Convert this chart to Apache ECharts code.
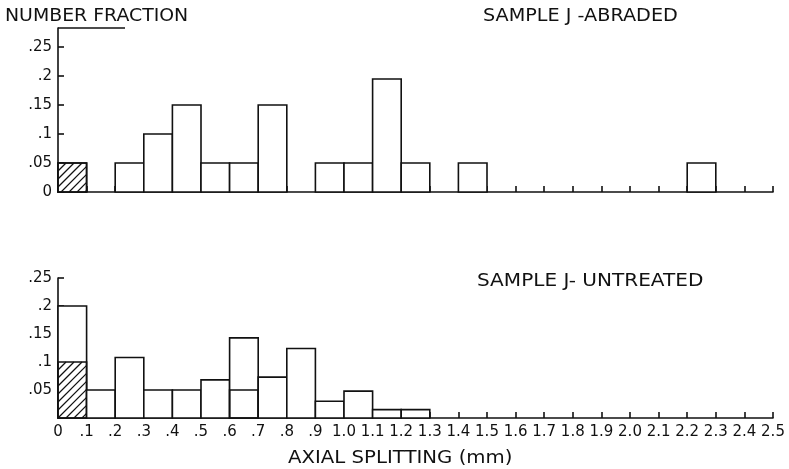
<!DOCTYPE html>
<html>
<head>
<meta charset="utf-8">
<script src="https://cdn.jsdelivr.net/npm/echarts@6/dist/echarts.min.js"></script>
<style>html,body{margin:0;padding:0;background:#fff;}#c{width:789px;height:469px;}</style>
</head>
<body>
<div id="c"></div>
<script>
// Bin edges (mm) and tick labels
var binEdges = [0,0.1,0.2,0.3,0.4,0.5,0.6,0.7,0.8,0.9,1.0,1.1,1.2,1.3,1.4,1.5,1.6,1.7,1.8,1.9,2.0,2.1,2.2,2.3,2.4,2.5];
var xTickLabels = ['0','.1','.2','.3','.4','.5','.6','.7','.8','.9','1.0','1.1','1.2','1.3','1.4','1.5','1.6','1.7','1.8','1.9','2.0','2.1','2.2','2.3','2.4','2.5'];
var yTickValuesTop = [0,0.05,0.1,0.15,0.2,0.25];
var yTickLabelsTop = ['0','.05','.1','.15','.2','.25'];
var yTickValuesBottom = [0.05,0.1,0.15,0.2,0.25];
var yTickLabelsBottom = ['.05','.1','.15','.2','.25'];

// Sample J - abraded: number fraction per bin (25 bins)
var abradedTotal  = [0.05,0,0.05,0.10,0.15,0.05,0.05,0.15,0,0.05,0.05,0.195,0.05,0,0.05,0,0,0,0,0,0,0,0.05,0,0];
var abradedLower  = [0.05,0,0,0,0,0,0,0,0,0,0,0,0,0,0,0,0,0,0,0,0,0,0,0,0];
var abradedHatch  = [1,0,0,0,0,0,0,0,0,0,0,0,0,0,0,0,0,0,0,0,0,0,0,0,0];

// Sample J - untreated
var untreatedTotal = [0.20,0.05,0.108,0.05,0.05,0.068,0.143,0.073,0.124,0.030,0.048,0.015,0.015,0,0,0,0,0,0,0,0,0,0,0,0];
var untreatedLower = [0.10,0,0,0,0,0,0.05,0,0,0,0,0,0,0,0,0,0,0,0,0,0,0,0,0,0];
var untreatedHatch = [1,0,0,0,0,0,0,0,0,0,0,0,0,0,0,0,0,0,0,0,0,0,0,0,0];

var FONT = 'DejaVu Sans';
var INK = '#111';

function buildData(total, lower, hatch) {
  var d = [];
  for (var i = 0; i < total.length; i++) {
    if (total[i] > 0) d.push([binEdges[i], binEdges[i+1], total[i], lower[i], hatch[i]]);
  }
  return d;
}

function renderBar(params, api) {
  var x0 = api.value(0), x1 = api.value(1), t = api.value(2), lo = api.value(3), h = api.value(4);
  var p0 = api.coord([x0, 0]);
  var p1 = api.coord([x1, t]);
  var children = [{
    type: 'rect',
    shape: {x: p0[0], y: p1[1], width: p1[0] - p0[0], height: p0[1] - p1[1]},
    style: {fill: '#fff', stroke: INK, lineWidth: 1.6}
  }];
  if (lo > 0) {
    var pl = api.coord([x1, lo]);
    var rx0 = p0[0], rx1 = pl[0], ry0 = pl[1], ry1 = p0[1];
    if (h) {
      var step = 8;
      for (var c = rx0 + ry0 + step; c < rx1 + ry1; c += step) {
        var sx = Math.max(rx0, c - ry1), ex = Math.min(rx1, c - ry0);
        if (ex > sx) {
          children.push({type: 'line', shape: {x1: sx, y1: c - sx, x2: ex, y2: c - ex},
            style: {stroke: INK, lineWidth: 1.2}});
        }
      }
    }
    children.push({
      type: 'rect',
      shape: {x: rx0, y: ry0, width: rx1 - rx0, height: ry1 - ry0},
      style: {fill: 'none', stroke: INK, lineWidth: 1.6}
    });
  }
  return {type: 'group', children: children};
}

function fmt(values, labels) {
  return function (v) {
    for (var i = 0; i < values.length; i++) if (Math.abs(values[i] - v) < 1e-6) return labels[i];
    return '';
  };
}

function label(text, x, y, sx) {
  return {type: 'text', x: x, y: y, scaleX: sx, scaleY: 1,
    style: {text: text, font: '17px "DejaVu Sans"', fill: INK, textVerticalAlign: 'top'}};
}

var axisLineStyle = {lineStyle: {color: INK, width: 1.6}};
var tickStyle = {lineStyle: {color: INK, width: 1.6}};
var labelBase = {color: INK, fontFamily: FONT, fontSize: 15};

var chart = echarts.init(document.getElementById('c'), null, {renderer: 'canvas'});
chart.setOption({
  backgroundColor: '#fff',
  animation: false,
  graphic: [
    label('NUMBER FRACTION', 5, 8, 1.11),
    label('SAMPLE J -ABRADED', 483, 8, 1.13),
    label('SAMPLE J- UNTREATED', 477, 273, 1.18),
    label('AXIAL SPLITTING (mm)', 288, 450, 1.16),
    {type: 'line', shape: {x1: 58, y1: 28, x2: 125, y2: 28}, style: {stroke: INK, lineWidth: 1.6}}
  ],
  grid: [
    {left: 58, width: 715, top: 28, height: 164},
    {left: 58, width: 715, top: 278, height: 140}
  ],
  xAxis: [
    {gridIndex: 0, type: 'value', min: 0, max: 2.5, interval: 0.1,
      axisLine: axisLineStyle, axisTick: {show: true, inside: true, length: 6, lineStyle: tickStyle.lineStyle},
      axisLabel: {show: false}, splitLine: {show: false}},
    {gridIndex: 1, type: 'value', min: 0, max: 2.5, interval: 0.1,
      axisLine: axisLineStyle, axisTick: {show: true, inside: true, length: 6, lineStyle: tickStyle.lineStyle},
      axisLabel: Object.assign({margin: 7, formatter: function (v) { return xTickLabels[Math.round(v * 10)]; },
        showMinLabel: true, showMaxLabel: true, hideOverlap: false}, labelBase),
      splitLine: {show: false}}
  ],
  yAxis: [
    {gridIndex: 0, type: 'value', min: 0, max: 0.283,
      axisLine: {show: true, lineStyle: axisLineStyle.lineStyle},
      axisTick: {show: true, inside: true, length: 6, lineStyle: tickStyle.lineStyle, customValues: yTickValuesTop},
      axisLabel: Object.assign({margin: 6, customValues: yTickValuesTop, formatter: fmt(yTickValuesTop, yTickLabelsTop)}, labelBase),
      splitLine: {show: false}},
    {gridIndex: 1, type: 'value', min: 0, max: 0.25,
      axisLine: {show: true, lineStyle: axisLineStyle.lineStyle},
      axisTick: {show: true, inside: true, length: 6, lineStyle: tickStyle.lineStyle, customValues: yTickValuesBottom},
      axisLabel: Object.assign({margin: 6, customValues: yTickValuesBottom, formatter: fmt(yTickValuesBottom, yTickLabelsBottom)}, labelBase),
      splitLine: {show: false}}
  ],
  series: [
    {type: 'custom', xAxisIndex: 0, yAxisIndex: 0, renderItem: renderBar,
      data: buildData(abradedTotal, abradedLower, abradedHatch), z: 1},
    {type: 'custom', xAxisIndex: 1, yAxisIndex: 1, renderItem: renderBar,
      data: buildData(untreatedTotal, untreatedLower, untreatedHatch), z: 1}
  ]
});
</script>
</body>
</html>
